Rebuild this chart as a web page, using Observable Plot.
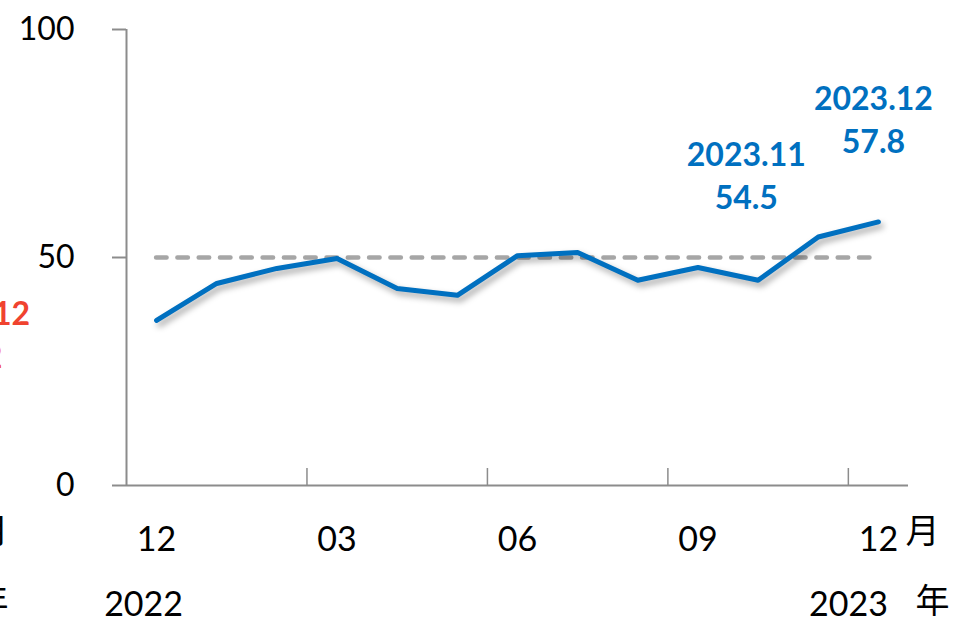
<!DOCTYPE html>
<html><head><meta charset="utf-8">
<script src="https://cdn.jsdelivr.net/npm/d3@7"></script>
<script src="https://cdn.jsdelivr.net/npm/@observablehq/plot@0.6"></script>
<style>
html,body{margin:0;padding:0;background:#fff;}
#chart svg{display:block;}
.shadowed path{filter:drop-shadow(3px 4px 3px rgba(0,0,0,0.35));}
</style></head><body><div id="chart"></div>
<script>
// ---- data ----
const months = ["2022.12","2023.01","2023.02","2023.03","2023.04","2023.05","2023.06","2023.07","2023.08","2023.09","2023.10","2023.11","2023.12"];
const values = [36.2, 44.3, 47.6, 49.8, 43.2, 41.7, 50.4, 51.1, 45.0, 47.8, 45.0, 54.5, 57.8];
const monthTickIdx = [0, 3, 6, 9, 12];
const monthTickLabels = ["12", "03", "06", "09", "12"];
const yearLabels = ["2022", "2023"];
const yTicks = [0, 50, 100];
const referenceLevel = 50;
const tickBoundaries = [2.5, 5.5, 8.5, 11.5];
const annotations = [
  {i: 11, text: "2023.11\n54.5"},
  {i: 12, text: "2023.12\n57.8"}
];
const leftCutAnnotation = {i: 0, text: "2022.12\n36.2"};

const data = months.map((m, i) => ({i, month: m, value: values[i]}));
const blue = "#0070C0";
const axisGray = "#8C8C8C";
const font = "Lato, 'Noto Sans CJK SC', sans-serif";
const lbl = {frameAnchor: "bottom", lineAnchor: "middle", fontSize: 34, fill: "#000"};

const chart = Plot.plot({
  width: 957,
  height: 623,
  marginLeft: 126,
  marginRight: 49,
  marginTop: 29,
  marginBottom: 138,
  style: {fontFamily: font, background: "#fff"},
  x: {domain: [-0.5, 12.5], axis: null},
  y: {domain: [0, 100], axis: null},
  marks: [
    // y axis with ticks to the left
    Plot.axisY(yTicks, {label: null, tickSize: 14, tickPadding: 38, stroke: axisGray, strokeWidth: 2, fontSize: 32, fill: "#000", tickFormat: d => String(d)}),
    Plot.ruleX([-0.5], {y1: 0, y2: 100, stroke: axisGray, strokeWidth: 2}),
    Plot.ruleY([0], {stroke: axisGray, strokeWidth: 2}),
    // category boundary tick marks (pointing up)
    Plot.ruleX(tickBoundaries, {x: d => d, insetTop: 439, stroke: axisGray, strokeWidth: 1.5}),
    // reference line
    Plot.ruleY([referenceLevel], {x1: 0, x2: 12, stroke: "#A6A6A6", strokeWidth: 4.5, strokeDasharray: "10.5,10.8", strokeLinecap: "round"}),
    // main series
    Plot.line(data, {x: "i", y: "value", stroke: blue, strokeWidth: 5, strokeLinejoin: "round", strokeLinecap: "round", className: "shadowed"}),
    // month labels
    Plot.text(monthTickIdx, {...lbl, x: d => d, text: (d, k) => monthTickLabels[k], dy: 55}),
    Plot.text(["月"], {...lbl, x: () => 12, text: d => d, textAnchor: "start", dx: 27, dy: 47}),
    // year labels
    Plot.text([yearLabels[0]], {...lbl, x: () => 0, text: d => d, dx: -13, dy: 120}),
    Plot.text([yearLabels[1]], {...lbl, x: () => 12, text: d => d, dx: -30, dy: 120}),
    Plot.text(["年"], {...lbl, x: () => 12, text: d => d, textAnchor: "start", dx: 37, dy: 117}),
    // cut-off labels of the neighbouring panel on the left edge
    Plot.text(["月"], {...lbl, x: () => -0.5, text: d => d, textAnchor: "end", dx: -118, dy: 47}),
    Plot.text(["年"], {...lbl, x: () => -0.5, text: d => d, textAnchor: "end", dx: -118, dy: 117}),
    // annotations
    Plot.text([annotations[0]], {x: "i", y: () => values[annotations[0].i], text: "text", dx: -72, dy: -63, lineHeight: 1.34, fontSize: 32, fontWeight: "bold", fill: blue}),
    Plot.text([annotations[1]], {x: "i", y: () => values[annotations[1].i], text: "text", dx: -5, dy: -104, lineHeight: 1.34, fontSize: 32, fontWeight: "bold", fill: blue}),
    Plot.text([leftCutAnnotation], {x: "i", y: () => values[leftCutAnnotation.i], text: "text", dx: -186, dy: 12, lineHeight: 1.34, fontSize: 32, fontWeight: "bold", fill: "#F0432F"})
  ]
});
document.getElementById("chart").appendChild(chart);
</script>
</body></html>
